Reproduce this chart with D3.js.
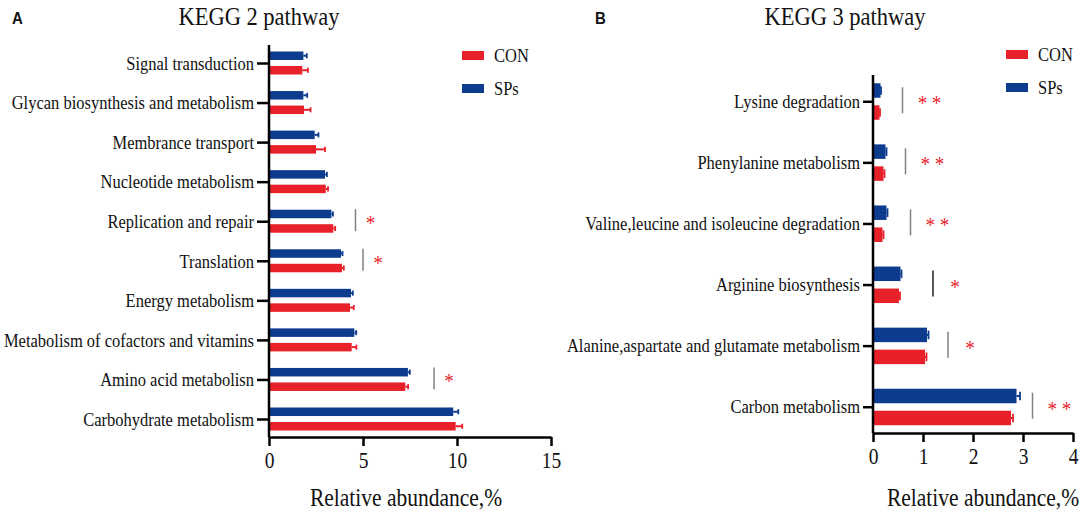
<!DOCTYPE html>
<html>
<head>
<meta charset="utf-8">
<script src="https://cdn.jsdelivr.net/npm/d3@7/dist/d3.min.js"></script>
<style>
  html, body { margin: 0; padding: 0; background: #fff; }
  svg { display: block; }
</style>
</head>
<body>
<svg id="chart" width="1084" height="513"></svg>
<script>
// ---------- DATA ----------
const seriesNames = ["CON", "SPs"];
const seriesColors = ["#e8202a", "#0d3c8f"];

const kegg2Categories = ["Signal transduction", "Glycan biosynthesis and metabolism", "Membrance transport",
  "Nucleotide metabolism", "Replication and repair", "Translation", "Energy metabolism",
  "Metabolism of cofactors and vitamins", "Amino acid metabolisn", "Carbohydrate metabolism"];
const kegg2CON    = [1.77, 1.86, 2.50, 3.02, 3.42, 3.88, 4.31, 4.40, 7.25, 9.93];
const kegg2CONerr = [0.30, 0.35, 0.48, 0.12, 0.10, 0.10, 0.20, 0.25, 0.15, 0.35];
const kegg2SPs    = [1.83, 1.83, 2.43, 2.98, 3.32, 3.83, 4.36, 4.54, 7.39, 9.80];
const kegg2SPsErr = [0.18, 0.20, 0.20, 0.10, 0.08, 0.08, 0.10, 0.10, 0.10, 0.27];
const kegg2Sig    = ["", "", "", "", "*", "*", "", "", "*", ""];
const kegg2SigX   = [null, null, null, null, 4.6, 5.0, null, null, 8.78, null];
const kegg2Ticks  = [0, 5, 10, 15];

const kegg3Categories = ["Lysine degradation", "Phenylanine metabolism", "Valine,leucine and isoleucine degradation",
  "Arginine biosynthesis", "Alanine,aspartate and glutamate metabolism", "Carbon metabolism"];
const kegg3CON    = [0.13, 0.21, 0.19, 0.52, 1.04, 2.76];
const kegg3CONerr = [0.01, 0.02, 0.02, 0.02, 0.03, 0.04];
const kegg3SPs    = [0.15, 0.25, 0.27, 0.55, 1.08, 2.87];
const kegg3SPsErr = [0.01, 0.02, 0.02, 0.02, 0.03, 0.07];
const kegg3Sig    = ["**", "**", "**", "*", "*", "**"];
const kegg3SigX   = [0.59, 0.65, 0.75, 1.2, 1.5, 3.19];
const kegg3Ticks  = [0, 1, 2, 3, 4];

// ---------- DRAW ----------
const svg = d3.select("#chart");
const SERIF = "'Liberation Serif', 'Times New Roman', Times, serif";
const SX = 0.87;           // horizontal compression of the original figure's text
const fs = w => (w / SX) + "px";

function panel(o) {
  const g = svg.append("g");
  const x = d3.scaleLinear().domain(o.domain).range([o.x0, o.x1]);
  const y = d3.scalePoint().domain(o.cats).range([o.y0, o.y1]).padding(o.pad);

  g.append("text").attr("x", o.letterX).attr("y", 24)
    .attr("font-family", "'Liberation Sans', Arial, sans-serif").attr("font-weight", "bold")
    .attr("font-size", fs(15)).attr("fill", "#111").text(o.letter);
  g.append("text").attr("x", o.titleX).attr("y", 25).attr("text-anchor", "middle")
    .attr("font-family", SERIF).attr("font-size", fs(22.5)).attr("fill", "#111").text(o.title);

  const series = [
    { vals: o.sps, errs: o.spsErr, color: seriesColors[1], off: o.blueOff },
    { vals: o.con, errs: o.conErr, color: seriesColors[0], off: o.redOff }
  ];
  series.forEach(s => {
    const gg = g.append("g");
    gg.selectAll("rect").data(o.cats).join("rect")
      .attr("x", x(0)).attr("y", d => y(d) + s.off)
      .attr("width", (d, i) => x(s.vals[i]) - x(0)).attr("height", o.barH)
      .attr("fill", s.color);
    gg.selectAll("line.eb").data(o.cats).join("line").attr("class", "eb")
      .attr("x1", (d, i) => x(s.vals[i])).attr("x2", (d, i) => x(s.vals[i] + s.errs[i]))
      .attr("y1", d => y(d) + s.off + o.barH / 2).attr("y2", d => y(d) + s.off + o.barH / 2)
      .attr("stroke", s.color).attr("stroke-width", 2);
    gg.selectAll("line.cap").data(o.cats).join("line").attr("class", "cap")
      .attr("x1", (d, i) => x(s.vals[i] + s.errs[i])).attr("x2", (d, i) => x(s.vals[i] + s.errs[i]))
      .attr("y1", d => y(d) + s.off + o.barH * 0.2).attr("y2", d => y(d) + s.off + o.barH * 0.8)
      .attr("stroke", s.color).attr("stroke-width", 1.8);
  });

  o.cats.forEach((c, i) => {
    if (!o.sig[i]) return;
    const lx = x(o.sigX[i]);
    g.append("line").attr("x1", lx).attr("x2", lx)
      .attr("y1", y(c) - o.sigHalf).attr("y2", y(c) + o.sigHalf - 2)
      .attr("stroke", (o.sigDark && o.sigDark[i]) ? "#222" : "#808080").attr("stroke-width", 1.5);
    g.append("text").attr("x", lx + (o.sig[i].length > 1 ? o.starOff2 : o.starOff1)).attr("y", y(c) + 9)
      .attr("text-anchor", "middle").attr("font-family", SERIF).attr("font-size", fs(19))
      .attr("fill", "#e8202a").text(o.sig[i].length > 1 ? "* *" : "*");
  });

  const yAx = g.append("g").attr("transform", `translate(${o.x0},0)`)
    .call(d3.axisLeft(y).tickSize(o.yTick).tickSizeOuter(0).tickPadding(3));
  yAx.attr("font-family", SERIF).attr("font-size", fs(16.5));
  yAx.select(".domain").attr("d", `M0,${o.y0}V${o.y1}`).attr("stroke", "#000").attr("stroke-width", 2.5);
  yAx.selectAll(".tick line").attr("stroke", "#000").attr("stroke-width", 2.5);
  yAx.selectAll(".tick text").attr("fill", "#111").attr("dy", "0.33em");

  const xAx = g.append("g").attr("transform", `translate(0,${o.y1})`)
    .call(d3.axisBottom(x).tickValues(o.ticks).tickFormat(d3.format("d")).tickSize(9).tickSizeOuter(0).tickPadding(6));
  xAx.attr("font-family", SERIF).attr("font-size", fs(19.5));
  xAx.select(".domain").attr("stroke", "#000").attr("stroke-width", 2.5);
  xAx.selectAll(".tick line").attr("stroke", "#000").attr("stroke-width", 2.5);
  xAx.selectAll(".tick text").attr("fill", "#111");

  g.append("text").attr("x", o.xTitleX).attr("y", 506).attr("text-anchor", "middle")
    .attr("font-family", SERIF).attr("font-size", fs(21.5)).attr("fill", "#111").text("Relative abundance,%");

  const legY = [o.legY0, o.legY0 + 33];
  [0, 1].forEach(k => {
    g.append("rect").attr("x", o.legX).attr("y", legY[k]).attr("width", 22).attr("height", 9)
      .attr("fill", seriesColors[k]);
    g.append("text").attr("x", o.legX + 32).attr("y", legY[k] + 11)
      .attr("font-family", SERIF).attr("font-size", fs(16.5)).attr("fill", "#111")
      .text(seriesNames[k]);
  });
}

panel({
  letter: "A", letterX: 12, title: "KEGG 2 pathway", titleX: 259,
  cats: kegg2Categories, con: kegg2CON, conErr: kegg2CONerr, sps: kegg2SPs, spsErr: kegg2SPsErr,
  sig: kegg2Sig, sigX: kegg2SigX, ticks: kegg2Ticks, domain: [0, 15],
  x0: 269, x1: 551, y0: 45, y1: 437, pad: 0.455,
  barH: 8.5, blueOff: -11.5, redOff: 3, yTick: 12,
  sigHalf: 12, starOff1: 15, starOff2: 24,
  xTitleX: 406, legX: 462, legY0: 51
});

panel({
  letter: "B", letterX: 595, title: "KEGG 3 pathway", titleX: 845,
  cats: kegg3Categories, con: kegg3CON, conErr: kegg3CONerr, sps: kegg3SPs, spsErr: kegg3SPsErr,
  sig: kegg3Sig, sigX: kegg3SigX, sigDark: [false, false, false, true, false, false],
  ticks: kegg3Ticks, domain: [0, 4],
  x0: 873, x1: 1073, y0: 75, y1: 433, pad: 0.43,
  barH: 14.5, blueOff: -18, redOff: 4, yTick: 10,
  sigHalf: 14, starOff1: 22, starOff2: 27,
  xTitleX: 983, legX: 1006, legY0: 50
});

// compress every text horizontally around its anchor x
svg.selectAll("text").each(function () {
  const t = d3.select(this);
  const xx = +(t.attr("x") || 0);
  t.attr("transform", `translate(${xx * (1 - SX)},0) scale(${SX},1)`);
});
</script>
</body>
</html>
